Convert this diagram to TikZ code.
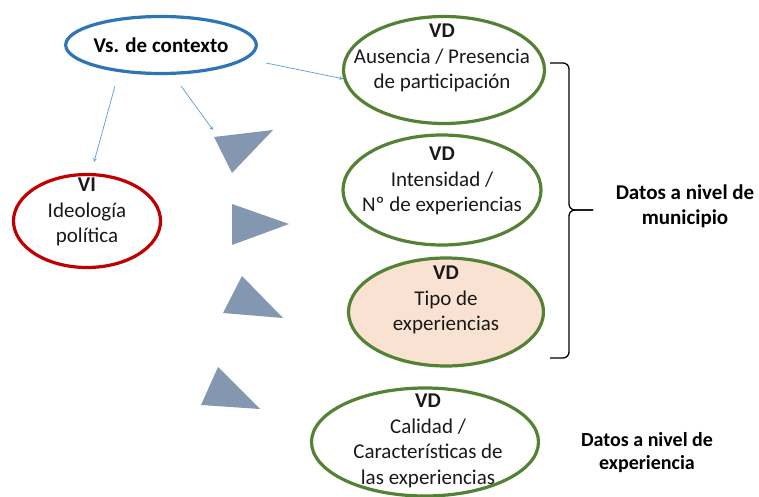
\documentclass[tikz,border=0pt]{standalone}
\usepackage{fontspec}
\setmainfont{Carlito}
\usetikzlibrary{shapes.geometric,arrows}
\definecolor{ctxBlue}{RGB}{46,117,182}
\definecolor{linkBlue}{RGB}{91,155,213}
\definecolor{viRed}{RGB}{192,0,0}
\definecolor{vdGreen}{RGB}{84,130,53}
\definecolor{vdPeach}{RGB}{250,226,210}
\definecolor{wedgeGray}{RGB}{132,151,176}
\tikzset{
  ctxNode/.style={ellipse, draw=ctxBlue, line width=3.2pt, minimum width=189pt, minimum height=57pt, inner sep=0pt},
  viNode/.style={ellipse, draw=viRed, line width=3.2pt, inner sep=0pt},
  vdNode/.style={ellipse, draw=vdGreen, line width=3.2pt, inner sep=0pt},
  txt/.style={align=center, text=black!90},
  note/.style={align=center, font=\bfseries\fontsize{21}{25}\selectfont},
  wedge/.style={fill=wedgeGray},
  link/.style={-stealth, draw=linkBlue, line width=0.7pt}
}

\begin{document}
\begin{tikzpicture}[x=1pt, y=-1pt, font=\fontsize{21}{25.5}\selectfont]
      \useasboundingbox (0,0) rectangle (759,497);
      % variables
      \node [ctxNode] (ctx) at (161,45) {\textbf{Vs. de contexto}};
      \node [viNode, minimum width=147pt, minimum height=93pt] (vi) at (87,221) {};
      \node [txt] (viText) at (87,212) {\textbf{VI}\\Ideología\\política};
      \node [vdNode, minimum width=201pt, minimum height=107pt] (vd1) at (444,70) {};
      \node [txt] (vd1Text) at (442,58) {\textbf{VD}\\Ausencia / Presencia\\de participación};
      \node [vdNode, minimum width=198pt, minimum height=110pt] (vd2) at (442,190) {};
      \node [txt] (vd2Text) at (442,181) {\textbf{VD}\\Intensidad /\\Nº de experiencias};
      \node [vdNode, fill=vdPeach, minimum width=195pt, minimum height=108pt] (vd3) at (446,312) {};
      \node [txt] (vd3Text) at (446,300) {\textbf{VD}\\Tipo de\\experiencias};
      \node [vdNode, minimum width=227pt, minimum height=108pt] (vd4) at (425,442) {};
      \node [txt] (vd4Text) at (428,441) {\textbf{VD}\\Calidad /\\Características de\\las experiencias};
      % triangles
      \fill [wedge] (214,137) -- (273,130) -- (232,173) -- cycle;
      \fill [wedge] (232,204) -- (289,224) -- (232,245) -- cycle;
      \fill [wedge] (242,276) -- (283,318) -- (223,313) -- cycle;
      \fill [wedge] (218,367) -- (260,409) -- (201,405) -- cycle;
      % arrows
      \coordinate (ctxA) at (115,86);
      \coordinate (ctxB) at (181,86);
      \coordinate (ctxC) at (266,63);
      \coordinate (viTop) at (94,162);
      \coordinate (wedgeTop) at (213,130);
      \draw [link] (ctxA) -- (viTop);
      \draw [link] (ctxB) -- (wedgeTop);
      \draw [link] (ctxC) -- (vd1.185);
      % brace
      \draw [line width=1.3pt, rounded corners=6pt] (550,63) -- (569,63) -- (569,210) -- (593,210);
      \draw [line width=1.3pt, rounded corners=6pt] (593,210) -- (569,210) -- (569,358) -- (550,358);
      \node [note] (muni) at (685,206) {Datos a nivel de\\municipio};
      \node [note, font=\bfseries\fontsize{20}{23}\selectfont] (expe) at (647,453) {Datos a nivel de\\experiencia};
    \end{tikzpicture}
\end{document}
